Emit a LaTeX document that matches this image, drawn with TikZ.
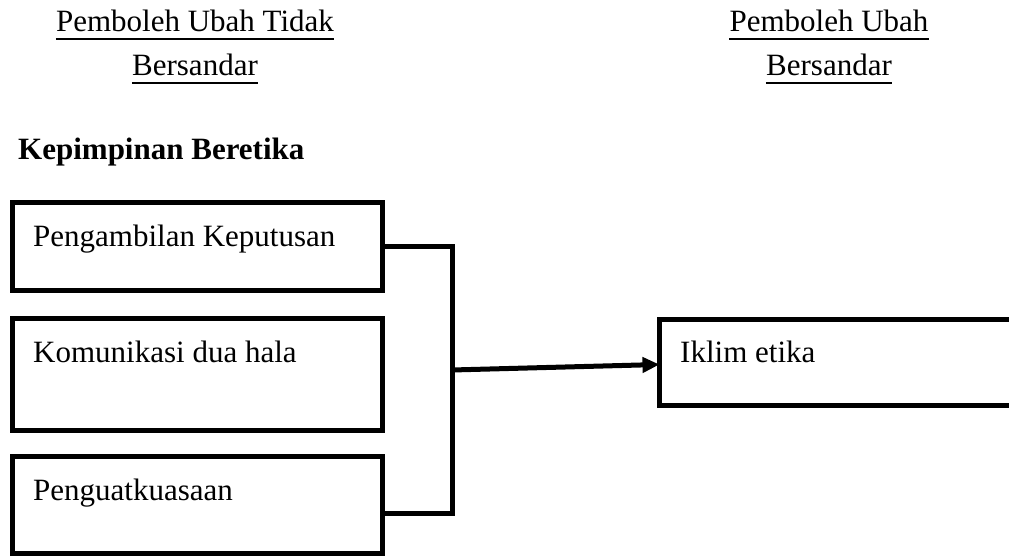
\documentclass[tikz,border=0pt]{standalone}
\usepackage{fontspec}
\setmainfont{Liberation Serif}
\usetikzlibrary{arrows.meta,calc}
\begin{document}
\begin{tikzpicture}[x=1pt,y=-1pt,
  every node/.style={font=\fontsize{31}{37}\selectfont},
  boxnode/.style={draw,line width=5pt,rectangle,inner sep=0pt,outer sep=0pt,anchor=north west},
  lbl/.style={inner sep=0pt,anchor=base west},
  hdr/.style={inner sep=0pt,anchor=base},
  uline/.style={line width=2.6pt},
  conn/.style={line width=5pt},
]
\clip (0,0) rectangle (1009,556);
\fill[white] (0,0) rectangle (1009,556);
% headers
\node[hdr] (h1) at (195,32) {Pemboleh Ubah Tidak};
\node[hdr] (h2) at (195,76) {Bersandar};
\node[hdr] (h3) at (829,32) {Pemboleh Ubah};
\node[hdr] (h4) at (829,76) {Bersandar};
\foreach \h in {h1,h2,h3,h4}{
  \draw[uline] ($(\h.base west)+(0,7)$) -- ($(\h.base east)+(0,7)$);
}
\node[lbl,font=\fontsize{31}{37}\selectfont\bfseries] (title) at (18,160) {Kepimpinan Beretika};
% boxes
\node[boxnode,minimum width=370pt,minimum height=88pt] (b1) at (12.5,202.5) {};
\node[boxnode,minimum width=370pt,minimum height=112pt] (b2) at (12.5,318.5) {};
\node[boxnode,minimum width=370pt,minimum height=97pt] (b3) at (12.5,456.5) {};
\node[boxnode,minimum width=380pt,minimum height=86pt] (ik) at (659.5,319.5) {};
\node[lbl] (t1) at (33,247) {Pengambilan Keputusan};
\node[lbl] (t2) at (33,362) {Komunikasi dua hala};
\node[lbl] (t3) at (33,500) {Penguatkuasaan};
\node[lbl] (t4) at (680,362) {Iklim etika};
% connectors
\coordinate (jtop) at (452,246.5);
\coordinate (jbot) at (452,513);
\coordinate (jmid) at (452,370);
\draw[conn] (b1.east) -- (jtop) -- (jbot) -- (b3.east |- jbot);
\draw[conn,-{Triangle[length=17pt,width=15pt]}] (jmid) -- ($(ik.west)+(0,2)$);
\end{tikzpicture}
\end{document}
